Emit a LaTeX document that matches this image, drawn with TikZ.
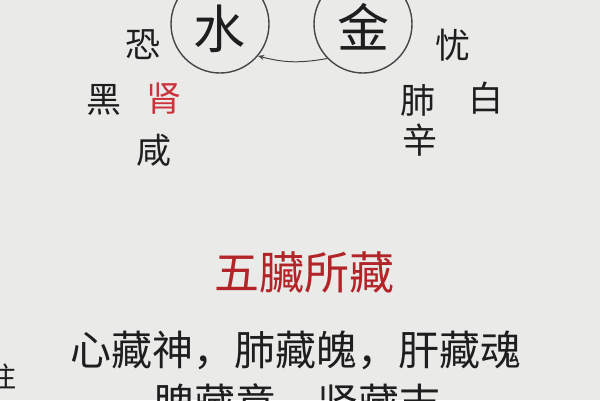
\documentclass[tikz,border=0pt]{standalone}
\usepackage{fontspec}
\setmainfont{Noto Sans CJK SC}
\usetikzlibrary{arrows.meta}
\definecolor{bg}{RGB}{234,234,233}
\definecolor{ink}{RGB}{30,30,30}
\definecolor{redink}{RGB}{205,50,58}
\definecolor{titleink}{RGB}{178,36,40}
\definecolor{ring}{RGB}{70,70,70}
\tikzset{
  elem/.style={circle, draw=ring, line width=1.4pt, minimum size=98pt, inner sep=0pt},
  elemch/.style={font=\fontsize{52}{52}\selectfont, text=ink, inner sep=0pt},
  lab/.style={font=\fontsize{35}{35}\selectfont, text=ink, inner sep=0pt},
  redlab/.style={lab, text=redink},
  title/.style={font=\fontsize{45}{45}\selectfont, text=titleink, inner sep=0pt},
  body/.style={font=\fontsize{41}{41}\selectfont, text=ink, inner sep=0pt},
  flow/.style={draw=ring, line width=1pt, -{Stealth[length=6pt,width=5pt]}}
}
\begin{document}
\begin{tikzpicture}[x=1pt,y=-1pt]
\fill[bg] (0,0) rectangle (600,400);
\useasboundingbox (0,0) rectangle (600,400);
\node[elem] (shui) at (220,24) {};
\node[elem] (jin) at (363,24) {};
\node[elemch] (shuich) at (219,29) {水};
\node[elemch] (jinch) at (363,27) {金};
\draw[flow] (jin.224) to[out=190,in=-15] (shui.-40);
\node[lab] (kong) at (143,45) {恐};
\node[lab] (hei) at (104,100) {黑};
\node[redlab] (shen) at (164,99) {肾};
\node[lab] (xian) at (154,150) {咸};
\node[lab] (you) at (453,45) {忧};
\node[lab] (fei) at (418,100) {肺};
\node[lab] (bai) at (486,98) {白};
\node[lab] (xin) at (420,140) {辛};
\node[title] (ti) at (304,272) {五臟所藏};
\node[body] (l1) at (296,350) {心藏神，肺藏魄，肝藏魂};
\node[body] (l2) at (297,403) {脾藏意，肾藏志};
\node[font=\fontsize{28}{28}\selectfont, text=ink, inner sep=0pt] (zhu) at (3,377) {注};
\end{tikzpicture}
\end{document}
